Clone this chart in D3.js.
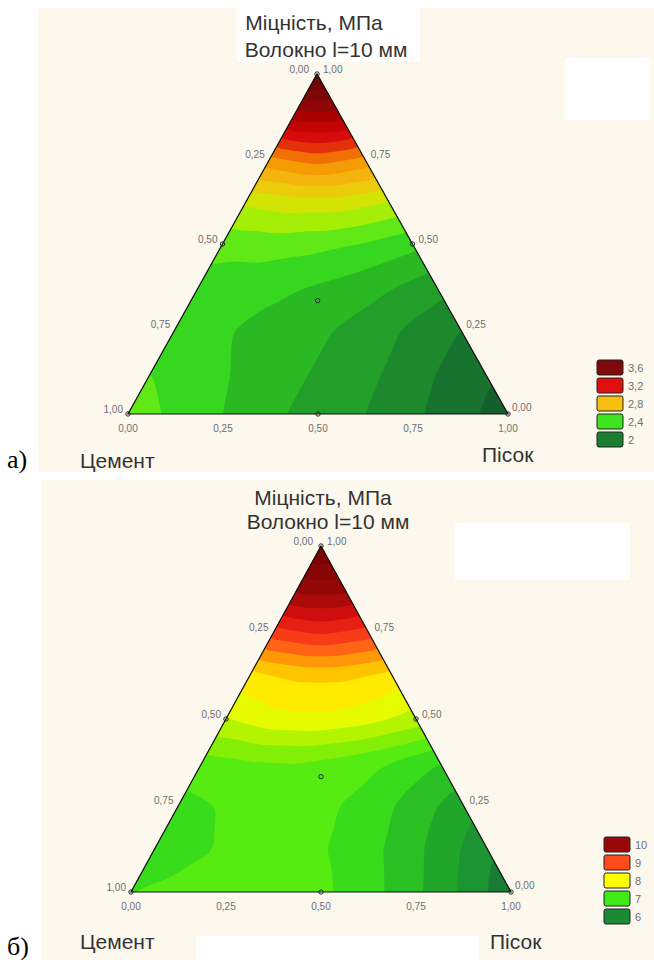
<!DOCTYPE html>
<html>
<head>
<meta charset="utf-8">
<script src="https://cdn.jsdelivr.net/npm/d3@7"></script>
<style>
body { margin: 0; background: #fff; }
svg { display: block; }
</style>
</head>
<body>
<svg id="chart" width="654" height="960"></svg>
<script>
// дані
const tickValues = [0, 0.25, 0.5, 0.75, 1];
const titleLines = ["Міцність, МПа", "Волокно l=10 мм"];
const axisNames = ["Цемент", "Пісок"];
const panelLabels = ["а)", "б)"];
// точки плану (цемент, пісок, третій компонент)
const designPoints = [[1, 0, 0], [0, 1, 0], [0, 0, 1], [0.5, 0.5, 0], [0.5, 0, 0.5], [0, 0.5, 0.5], [1 / 3, 1 / 3, 1 / 3]];
const legendA = [3.6, 3.2, 2.8, 2.4, 2];
const legendB = [10, 9, 8, 7, 6];

// значення поверхні: рядки t = 0, 1/8 ... 1, у рядку s = 0, 1/8 ...
const strengthA = [
    [2.45, 2.38, 2.30, 2.22, 2.16, 2.10, 2.02, 1.93, 1.85],
    [2.40, 2.34, 2.28, 2.22, 2.16, 2.09, 2.00, 1.92],
    [2.34, 2.31, 2.27, 2.22, 2.16, 2.08, 2.00],
    [2.36, 2.34, 2.31, 2.27, 2.21, 2.14],
    [2.44, 2.45, 2.43, 2.39, 2.33],
    [2.62, 2.66, 2.66, 2.60],
    [2.98, 3.05, 2.98],
    [3.45, 3.45],
    [3.85]
];
const strengthB = [
    [7.00, 7.05, 7.10, 7.12, 7.05, 6.85, 6.55, 6.20, 5.80],
    [6.90, 6.98, 7.06, 7.08, 6.95, 6.70, 6.40, 6.05],
    [6.92, 7.02, 7.08, 7.06, 6.90, 6.62, 6.35],
    [7.15, 7.22, 7.24, 7.15, 6.98, 6.75],
    [7.75, 7.92, 7.95, 7.85, 7.65],
    [8.15, 8.30, 8.30, 8.15],
    [9.15, 9.30, 9.15],
    [10.1, 10.1],
    [10.8]
];

const colorA = d3.scaleLinear()
    .domain([1.8, 2.0, 2.2, 2.4, 2.6, 2.8, 3.0, 3.2, 3.4, 3.6, 4.0])
    .range(["#12542a", "#1a7e30", "#25aa25", "#3de61e", "#c8f000", "#f5c010", "#f59000", "#e01010", "#b80000", "#800808", "#5a0000"]);
const colorB = d3.scaleLinear()
    .domain([5.5, 6.0, 6.5, 7.0, 7.5, 8.0, 8.5, 9.0, 9.5, 10.0, 11.0])
    .range(["#12542a", "#1a8a35", "#22b025", "#40ea18", "#99f000", "#ffff00", "#ffb000", "#ff4a1a", "#e01010", "#990808", "#6a0000"]);

const panels = [
    { rows: strengthA, left: 128, right: 508, base: 414, apex: [317, 74], color: colorA,
      levels: d3.range(1.7, 4.15, 0.1), step: 0.1, legend: legendA, legendX: 597, legendY: 360,
      title: [[314, 30], [326, 57]], names: [[80, 468], [482, 462]], label: [7, 468] },
    { rows: strengthB, left: 131, right: 511, base: 892, apex: [321, 546], color: colorB,
      levels: d3.range(5.5, 11.6, 0.25), step: 0.25, legend: legendB, legendX: 604, legendY: 837,
      title: [[323, 505], [328, 529]], names: [[80, 949], [490, 949]], label: [7, 955] }
];

const svg = d3.select("#chart");
const font = "'Liberation Sans', Arial, sans-serif";
const fmt = v => d3.format(".2f")(v).replace(".", ",");
const fmtLegend = v => String(v).replace(".", ",");

// фон
svg.append("rect").attr("width", 654).attr("height", 960).attr("fill", "#fff");
svg.append("rect").attr("x", 38).attr("y", 8).attr("width", 616).attr("height", 464).attr("fill", "#fcf8ee");
svg.append("rect").attr("x", 42).attr("y", 480).attr("width", 612).attr("height", 480).attr("fill", "#fcf8ee");
[[237, 0, 183, 62], [565, 58, 85, 62], [455, 523, 175, 57], [196, 936, 283, 24]].forEach(r => {
    svg.append("rect").attr("x", r[0]).attr("y", r[1]).attr("width", r[2]).attr("height", r[3]).attr("fill", "#fff");
});

function fieldAt(rows, s, t) {
    const N = rows.length - 1;
    let c = 1 - s - t;
    s = Math.max(0, s); t = Math.max(0, t); c = Math.max(0, c);
    const sum = s + t + c;
    s /= sum; t /= sum;
    const u = s * N, v = t * N;
    const i = Math.min(Math.floor(v), N - 1);
    const j = Math.max(0, Math.min(Math.floor(u), N - 1 - i));
    const fu = u - j, fv = v - i;
    const V = (jj, ii) => rows[ii][jj];
    if (fu + fv <= 1 || j + i + 1 >= N) {
        return V(j, i) * (1 - fu - fv) + V(j + 1, i) * fu + V(j, i + 1) * fv;
    }
    return V(j + 1, i + 1) * (fu + fv - 1) + V(j + 1, i) * (1 - fv) + V(j, i + 1) * (1 - fu);
}

function blur(vals, n, m, r) {
    const tmp = new Float64Array(n * m);
    const out = new Float64Array(n * m);
    for (let j = 0; j < m; j++) {
        for (let i = 0; i < n; i++) {
            let sum = 0;
            for (let k = -r; k <= r; k++) sum += vals[j * n + Math.min(n - 1, Math.max(0, i + k))];
            tmp[j * n + i] = sum / (2 * r + 1);
        }
    }
    for (let j = 0; j < m; j++) {
        for (let i = 0; i < n; i++) {
            let sum = 0;
            for (let k = -r; k <= r; k++) sum += tmp[Math.min(m - 1, Math.max(0, j + k)) * n + i];
            out[j * n + i] = sum / (2 * r + 1);
        }
    }
    return out;
}

panels.forEach((p, idx) => {
    const g = svg.append("g");
    const ty = d3.scaleLinear().domain([0, 1]).range([p.base, p.apex[1]]);
    const tx = d3.scaleLinear().domain([0, 1]).range([p.left, p.apex[0]]);
    const sx = d3.scaleLinear().domain([0, 1]).range([0, p.right - p.left]);
    const pos = (c, s, t) => [tx(t) + sx(s), ty(t)];

    // сітка значень
    const x0 = Math.floor(p.left) - 3, x1 = Math.ceil(p.right) + 3;
    const y0 = Math.floor(p.apex[1]) - 3, y1 = Math.ceil(p.base) + 3;
    const n = x1 - x0, m = y1 - y0;
    let vals = new Float64Array(n * m);
    for (let j = 0; j < m; j++) {
        const t = ty.invert(y0 + j + 0.5);
        for (let i = 0; i < n; i++) {
            const s = sx.invert(x0 + i + 0.5 - tx(t));
            vals[j * n + i] = fieldAt(p.rows, s, t);
        }
    }
    vals = blur(blur(vals, n, m, 6), n, m, 6);

    const contours = d3.contours().size([n, m]).thresholds(p.levels)(vals);
    const tri = [pos(1, 0, 0), pos(0, 1, 0), pos(0, 0, 1)];

    svg.append("clipPath").attr("id", "clip" + idx)
        .append("path").attr("d", "M" + tri.join("L") + "Z");

    g.append("g").attr("clip-path", `url(#clip${idx})`)
        .append("g").attr("transform", `translate(${x0},${y0})`)
        .selectAll("path")
        .data(contours)
        .join("path")
        .attr("d", d3.geoPath())
        .attr("fill", d => p.color(d.value + p.step / 2));

    g.append("path")
        .attr("d", "M" + tri.join("L") + "Z")
        .attr("fill", "none")
        .attr("stroke", "#111")
        .attr("stroke-width", 1.2);

    // точки плану
    g.selectAll(".pt")
        .data(designPoints)
        .join("circle")
        .attr("cx", d => pos(...d)[0])
        .attr("cy", d => pos(...d)[1])
        .attr("r", 2.2)
        .attr("fill", "none")
        .attr("stroke", "#1d2d1d")
        .attr("stroke-width", 1);

    const tickText = g.append("g")
        .attr("font-family", font)
        .attr("font-size", 10)
        .attr("fill", "#6e6e6e");

    // ліва сторона: цемент
    tickText.selectAll(".lt")
        .data(tickValues)
        .join("text")
        .attr("x", v => pos(v, 0, 1 - v)[0] - (v === 0 ? 8 : 5))
        .attr("y", v => pos(v, 0, 1 - v)[1] - 1.5)
        .attr("text-anchor", "end")
        .text(fmt);
    // права сторона
    tickText.selectAll(".rt")
        .data(tickValues)
        .join("text")
        .attr("x", v => pos(0, 1 - v, v)[0] + (v === 0 ? 4 : 6))
        .attr("y", v => pos(0, 1 - v, v)[1] - (v === 0 ? 3 : 1.5))
        .attr("text-anchor", "start")
        .text(fmt);
    // основа: пісок
    tickText.selectAll(".bt")
        .data(tickValues)
        .join("text")
        .attr("x", v => pos(1 - v, v, 0)[0])
        .attr("y", p.base + 18)
        .attr("text-anchor", "middle")
        .text(fmt);

    // заголовок
    g.selectAll(".title")
        .data(titleLines)
        .join("text")
        .attr("x", (d, i) => p.title[i][0])
        .attr("y", (d, i) => p.title[i][1])
        .attr("text-anchor", "middle")
        .attr("font-family", font)
        .attr("font-size", 21)
        .attr("fill", "#333")
        .text(d => d);

    g.selectAll(".name")
        .data(axisNames)
        .join("text")
        .attr("x", (d, i) => p.names[i][0])
        .attr("y", (d, i) => p.names[i][1])
        .attr("font-family", font)
        .attr("font-size", 21)
        .attr("fill", "#333")
        .text(d => d);

    g.append("text")
        .attr("x", p.label[0])
        .attr("y", p.label[1])
        .attr("font-family", "'Liberation Serif', 'Times New Roman', serif")
        .attr("font-size", 26)
        .attr("fill", "#000")
        .text(panelLabels[idx]);

    // легенда
    const leg = g.append("g");
    leg.selectAll("rect")
        .data(p.legend)
        .join("rect")
        .attr("x", p.legendX)
        .attr("y", (d, i) => p.legendY + i * 18)
        .attr("width", 26)
        .attr("height", 15)
        .attr("rx", 2)
        .attr("fill", d => p.color(d))
        .attr("stroke", "#222")
        .attr("stroke-width", 1);
    leg.selectAll("text")
        .data(p.legend)
        .join("text")
        .attr("x", p.legendX + 31)
        .attr("y", (d, i) => p.legendY + i * 18 + 11.5)
        .attr("font-family", font)
        .attr("font-size", 11)
        .attr("fill", "#6e6e6e")
        .text(fmtLegend);
});
</script>
</body>
</html>
